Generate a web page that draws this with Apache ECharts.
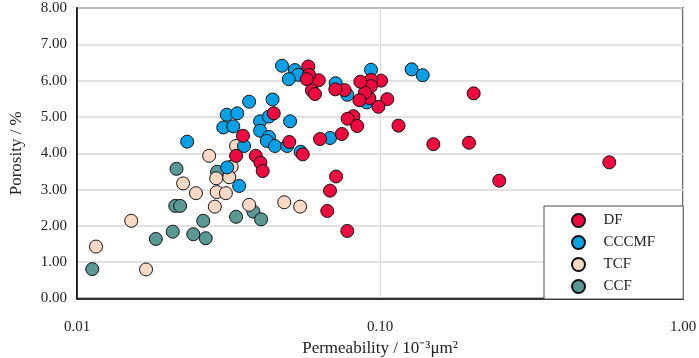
<!DOCTYPE html>
<html>
<head>
<meta charset="utf-8">
<script src="https://cdn.jsdelivr.net/npm/echarts@6/dist/echarts.min.js"></script>
<style>html,body{margin:0;padding:0;background:#fff}#c{width:699px;height:358px}</style>
</head>
<body>
<div id="c"></div>
<script>
// Permeability (10^-3 μm²), Porosity (%)
var dfPerm = [0.571,0.2475,0.2038,0.1967,0.150,0.1151,0.1057,0.1008,0.0988,0.0934,0.0934,0.0922,0.0892,0.0855,0.0861,0.0764,0.0712,0.0628,0.0580,0.0583,0.0573,0.0596,0.0610,0.0817,0.0782,0.0841,0.0748,0.0634,0.0556,0.0502,0.0446,0.0353,0.0335,0.0389,0.0403,0.0410,0.0716,0.0684,0.0670,0.0780];
var dfPoro = [3.75,3.245,5.65,4.29,4.25,4.76,5.49,6.00,5.28,6.02,5.85,5.52,5.67,5.46,5.97,5.74,5.76,6.01,6.39,6.16,6.04,5.73,5.63,5.02,4.95,4.75,4.53,4.39,3.97,4.31,5.10,4.48,3.93,3.93,3.74,3.51,3.36,2.97,2.41,1.86];

var cccmfPerm = [0.1272,0.1383,0.0934,0.0904,0.0780,0.0714,0.0475,0.0524,0.0537,0.0500,0.0370,0.0442,0.0312,0.0338,0.0304,0.0328,0.0402,0.0430,0.0505,0.0402,0.0430,0.0423,0.0450,0.0494,0.0356,0.0231,0.0684,0.0547,0.0313,0.0343];
var cccmfPoro = [6.31,6.15,6.30,5.40,5.61,5.93,6.41,6.29,6.16,6.04,5.42,5.48,5.06,5.10,4.71,4.74,4.88,5.01,4.88,4.62,4.45,4.34,4.20,4.20,4.20,4.32,4.42,4.04,3.61,3.10];

var tcfPerm = [0.0273,0.0335,0.0324,0.0288,0.0318,0.0224,0.0247,0.0289,0.0310,0.0285,0.0370,0.0483,0.0545,0.0151,0.01155,0.0169];
var tcfPoro = [3.93,4.20,3.63,3.31,3.34,3.17,2.90,2.93,2.90,2.53,2.58,2.65,2.53,2.14,1.43,0.80];

var ccfPerm = [0.0213,0.0290,0.0211,0.0219,0.0261,0.0335,0.0382,0.0405,0.0207,0.0182,0.0242,0.0266,0.01123];
var ccfPoro = [3.57,3.49,2.55,2.55,2.14,2.25,2.39,2.18,1.84,1.64,1.77,1.66,0.81];

var seriesNames = ['DF','CCCMF','TCF','CCF'];
var xTitle = 'Permeability / 10⁻³μm²';
var yTitle = 'Porosity / %';

function pairs(xs, ys){ return xs.map(function(x,i){ return [x, ys[i]]; }); }

var colors = {DF:'#EE0A3F', CCCMF:'#0AA0E6', TCF:'#FBD9C4', CCF:'#5A9896'};
var font = 'Liberation Serif, Times New Roman, serif';

function mk(name, data){
  return {
    name: name, type: 'scatter', data: data, symbol: 'circle', symbolSize: 13,
    itemStyle: {color: colors[name], borderColor: '#111', borderWidth: 1, opacity: 1},
    emphasis: {disabled: true}
  };
}

var chart = echarts.init(document.getElementById('c'), null, {renderer:'canvas'});
chart.setOption({
  animation: false,
  backgroundColor: '#fff',
  grid: {left: 77, right: 16, top: 8, bottom: 59.5, show: true, borderColor: '#6a6a6a', borderWidth: 2, backgroundColor: 'transparent', outerBoundsMode: 'none', containLabel: false},
  legend: {
    data: seriesNames, orient: 'vertical', left: 544, top: 206,
    padding: [7, 28, 5, 27], itemWidth: 40, itemHeight: 13, itemGap: 7,
    backgroundColor: '#fff', borderColor: '#4a4a4a', borderWidth: 1,
    textStyle: {fontFamily: font, fontSize: 15, color: '#222'},
    icon: 'circle'
  },
  xAxis: {
    type: 'log', logBase: 10, min: 0.01, max: 1,
    name: xTitle, nameLocation: 'middle', nameGap: 42,
    nameTextStyle: {fontFamily: font, fontSize: 17, color: '#222'},
    axisLine: {show: true, onZero: false, lineStyle: {color: '#000', width: 1.5}},
    axisTick: {show: false},
    minorTick: {show: false},
    axisLabel: {fontFamily: font, fontSize: 15, color: '#222', margin: 21, formatter: function(v){ return v.toFixed(2); }},
    splitLine: {show: true, lineStyle: {color: '#d9d9d9', width: 1}}
  },
  yAxis: {
    type: 'value', min: 0, max: 8, interval: 1,
    name: yTitle, nameLocation: 'middle', nameGap: 52, nameRotate: 90,
    nameTextStyle: {fontFamily: font, fontSize: 17, color: '#222'},
    axisLine: {show: true, lineStyle: {color: '#000', width: 1.5}},
    axisTick: {show: false},
    axisLabel: {fontFamily: font, fontSize: 15, color: '#222', margin: 10, formatter: function(v){ return v.toFixed(2); }},
    splitLine: {show: true, lineStyle: {color: '#d9d9d9', width: 1.5}}
  },
  series: [
    mk('CCF', pairs(ccfPerm, ccfPoro)),
    mk('TCF', pairs(tcfPerm, tcfPoro)),
    mk('CCCMF', pairs(cccmfPerm, cccmfPoro)),
    mk('DF', pairs(dfPerm, dfPoro))
  ]
});
</script>
</body>
</html>
